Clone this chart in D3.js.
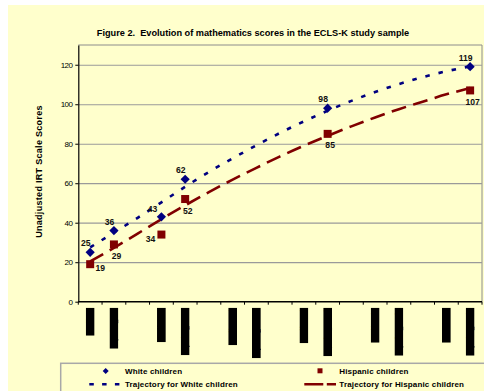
<!DOCTYPE html>
<html><head><meta charset="utf-8">
<script src="https://cdn.jsdelivr.net/npm/d3@7"></script>
<style>
html,body{margin:0;padding:0;background:#fff;}
svg{display:block;font-family:"Liberation Sans",Arial,sans-serif;}
text{white-space:pre;}
</style></head>
<body>
<svg id="chart" width="484" height="391"></svg>
<script>
// ---- data ----
const titleText = "Figure 2.  Evolution of mathematics scores in the ECLS-K study sample";
const yAxisTitle = "Unadjusted IRT Scale Scores";
const categories = ["Fall K","Spring K","","Fall 1st","Spring 1st","","Fall 2nd","Spring 2nd","","Fall 3rd","Spring 3rd","","Fall 4th","Spring 4th","","Fall 5th","Spring 5th"];
const waves = ["Fall K","Spring K","Fall 1st","Spring 1st","Spring 3rd","Spring 5th"];
const whiteScores = [25, 36, 43, 62, 98, 119];
const hispanicScores = [19, 29, 34, 52, 85, 107];
// trajectories (fitted curves) at each category
const whiteTrajectory = [27.5, 35, 42.5, 50.3, 58.2, 65.7, 72.6, 79.2, 85.5, 91.3, 96.7, 101.7, 106.2, 110.2, 113.7, 116.7, 119.2];
const hispanicTrajectory = [20.4, 27.3, 34.5, 41.8, 48.8, 55.5, 61.8, 67.8, 73.6, 79.0, 84.0, 88.8, 93.3, 97.5, 101.3, 105.0, 108.2];
const yTicks = [0, 20, 40, 60, 80, 100, 120];
const whiteLabelPlacement = ["above","above","aboveLeft","above","above","above"];
const hispanicLabelPlacement = ["right","below","left","below","below","below"];
const legendLabels = ["White children","Hispanic children","Trajectory for White children","Trajectory for Hispanic children"];

(function(){
// ---- styles ----
const BG = "#FFFFCC", NAVY = "#000080", MAROON = "#800000";

const svg = d3.select("#chart");
svg.append("rect").attr("x",8).attr("y",5).attr("width",476).attr("height",386).attr("fill",BG);

const pL = 78.3, pR = 482, pT = 45, pB = 301.7;
const x = d3.scaleBand().domain(d3.range(categories.length)).range([pL, pR]).paddingInner(0).paddingOuter(0);
const y = d3.scaleLinear().domain([0,130]).range([pB, pT]);
const cx = i => x(i) + x.bandwidth()/2;
const waveIdx = w => categories.indexOf(w);

// title
svg.append("text").attr("x",253).attr("y",35.5).attr("text-anchor","middle")
  .attr("font-size",9.2).attr("font-weight","bold").attr("fill","#000").text(titleText);

// plot frame (top/right)
svg.append("path").attr("d",`M${pL},${pT}H${pR}V${pB}`).attr("fill","none").attr("stroke","#8c8c8c").attr("stroke-width",1);

// gridlines
svg.append("g").attr("transform",`translate(${pL},0)`)
  .call(d3.axisLeft(y).tickValues(yTicks.filter(v=>v>0)).tickSize(-(pR-pL)).tickFormat(""))
  .call(g=>g.select(".domain").remove())
  .call(g=>g.selectAll("line").attr("stroke","#9a9a9a").attr("stroke-width",1.2));

// y axis
svg.append("g").attr("transform",`translate(${pL},0)`)
  .call(d3.axisLeft(y).tickValues(yTicks).tickSize(3).tickPadding(3).tickSizeOuter(0))
  .call(g=>g.select(".domain").attr("stroke","#000").attr("stroke-width",1.2))
  .call(g=>g.selectAll("line").attr("stroke","#000"))
  .call(g=>g.selectAll("text").attr("font-size",8).attr("letter-spacing",-0.6).attr("fill","#000").attr("font-family","Liberation Sans, Arial, sans-serif"));

// x axis line + boundary ticks
const xg = svg.append("g");
xg.append("line").attr("x1",pL).attr("x2",pR).attr("y1",pB).attr("y2",pB).attr("stroke","#000").attr("stroke-width",1.4);
xg.selectAll("line.tk").data(d3.range(categories.length+1)).join("line").attr("class","tk")
  .attr("x1",i=> i<categories.length ? x(i) : pR).attr("x2",i=> i<categories.length ? x(i) : pR)
  .attr("y1",pB).attr("y2",pB+3).attr("stroke","#000");

// x category labels (rendered as solid black blocks like the reference)
const defs = svg.append("defs");
const lab = svg.append("g");
categories.forEach((c,i)=>{
  if(!c) return;
  const gx = cx(i), y0 = pB+6;
  const g = lab.append("g");
  const t = g.append("text").attr("font-size",9).attr("font-weight","bold").attr("fill","#000")
    .attr("text-anchor","end").attr("transform",`translate(${gx+3},${y0+1.75}) rotate(-90)`).text(c);
  const len = t.node().getComputedTextLength();
  const cid = "clipLab"+i;
  defs.append("clipPath").attr("id",cid).append("rect")
    .attr("x",gx-4.4).attr("y",y0).attr("width",8.8).attr("height",len+3.5);
  g.attr("clip-path",`url(#${cid})`);
  g.insert("rect","text").attr("x",gx-4.4).attr("y",y0).attr("width",8.8).attr("height",len+3.5).attr("fill","#000");
});
// y axis title
svg.append("text").attr("transform",`translate(41.5,171.5) rotate(-90)`).attr("text-anchor","middle")
  .attr("font-size",9).attr("font-weight","bold").attr("letter-spacing",0.3).attr("fill","#000").text(yAxisTitle);

// trajectories
const line = d3.line().x((d,i)=>cx(i)).y(d=>y(d)).curve(d3.curveNatural);
svg.append("path").datum(hispanicTrajectory).attr("d",line).attr("fill","none")
  .attr("stroke",MAROON).attr("stroke-width",2.6).attr("stroke-dasharray","15,7.5");
svg.append("path").datum(whiteTrajectory).attr("d",line).attr("fill","none")
  .attr("stroke",NAVY).attr("stroke-width",2.6).attr("stroke-dasharray","4.5,9");

// markers
const diamond = (px,py,r)=>`M${px},${py-r}L${px+r},${py}L${px},${py+r}L${px-r},${py}Z`;
svg.append("g").selectAll("path").data(waves).join("path")
  .attr("d",(w,k)=>diamond(cx(waveIdx(w)), y(whiteScores[k]), 4.6)).attr("fill",NAVY);
svg.append("g").selectAll("rect").data(waves).join("rect")
  .attr("x",w=>cx(waveIdx(w))-4).attr("y",(w,k)=>y(hispanicScores[k])-4)
  .attr("width",8).attr("height",8).attr("fill",MAROON);

// data labels
const offW = {above:[-4.5,-9], aboveLeft:[-9,-8]};
svg.append("g").selectAll("text").data(waves).join("text")
  .attr("x",(w,k)=>cx(waveIdx(w))+offW[whiteLabelPlacement[k]][0])
  .attr("y",(w,k)=>y(whiteScores[k])+offW[whiteLabelPlacement[k]][1]+3)
  .attr("text-anchor","middle").attr("font-size",8.6).attr("font-weight","bold").attr("fill","#111")
  .text((w,k)=>whiteScores[k]);
const off = {right:[10,4], below:[2.5,11.5], left:[-11,4]};
svg.append("g").selectAll("text").data(waves).join("text")
  .attr("x",(w,k)=>cx(waveIdx(w))+off[hispanicLabelPlacement[k]][0])
  .attr("y",(w,k)=>y(hispanicScores[k])+off[hispanicLabelPlacement[k]][1]+3)
  .attr("text-anchor","middle").attr("font-size",8.6).attr("font-weight","bold").attr("fill","#111")
  .text((w,k)=>hispanicScores[k]);

// legend
const lg = svg.append("g");
lg.append("rect").attr("x",60.7).attr("y",363.3).attr("width",460).attr("height",60)
  .attr("fill",BG).attr("stroke","#a8a8a8").attr("stroke-width",1.5);
lg.append("path").attr("d",diamond(105.7,371,3)).attr("fill",NAVY);
lg.append("rect").attr("x",317.5).attr("y",368.3).attr("width",5).attr("height",5).attr("fill",MAROON);
lg.append("line").attr("x1",89.3).attr("x2",119.5).attr("y1",384.3).attr("y2",384.3)
  .attr("stroke",NAVY).attr("stroke-width",2.6).attr("stroke-dasharray","4.5,8.3");
lg.append("line").attr("x1",304.3).attr("x2",336).attr("y1",384.3).attr("y2",384.3)
  .attr("stroke",MAROON).attr("stroke-width",2.6).attr("stroke-dasharray","19,3.5");
const legPos = [[125,371],[339.3,371],[125,384.3],[339.3,384.3]];
lg.selectAll("text").data(legendLabels).join("text")
  .attr("x",(d,i)=>legPos[i][0]).attr("y",(d,i)=>legPos[i][1]+3)
  .attr("font-size",8).attr("font-weight","bold").attr("letter-spacing",0.15).attr("fill","#000").text(d=>d);
})();
</script>
</body></html>
